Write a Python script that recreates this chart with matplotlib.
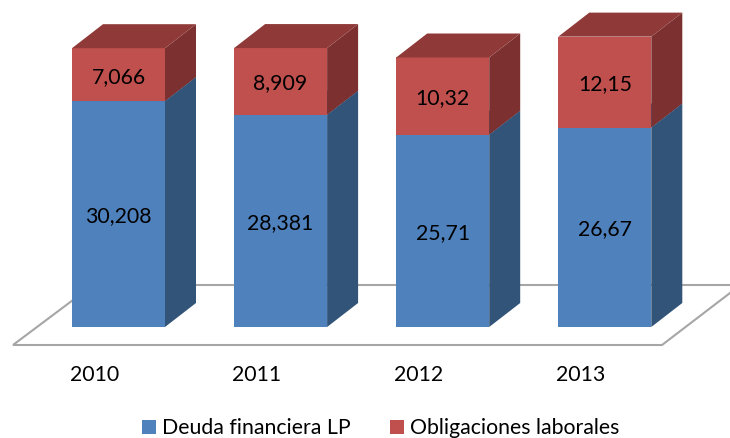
import matplotlib
matplotlib.use("Agg")
import matplotlib.pyplot as plt
from matplotlib.patches import Polygon, Patch

years = ["2010", "2011", "2012", "2013"]
deuda = [30.208, 28.381, 25.71, 26.67]
obligaciones = [7.066, 8.909, 10.32, 12.15]
deuda_labels = ["30,208", "28,381", "25,71", "26,67"]
oblig_labels = ["7,066", "8,909", "10,32", "12,15"]

W, H = 730, 438
PX_X = 162.1   # pixels per category
PX_Y = 7.48    # pixels per value unit
X0, Y0 = 118.5, 327
BAR_W = 93 / PX_X
DX, DY = 31 / PX_X, 24 / PX_Y
TXT_DY = 2 / PX_Y

plt.rcParams["font.family"] = ["Lato", "DejaVu Sans"]
fig = plt.figure(figsize=(W / 100, H / 100), dpi=100)
ax = fig.add_axes([0, 0, 1, 1])
ax.set_xlim(-X0 / PX_X, (W - X0) / PX_X)
ax.set_ylim(-(H - Y0) / PX_Y, Y0 / PX_Y)
ax.axis("off")

def px(x, y):
    return ((x - X0) / PX_X, (Y0 - y) / PX_Y)

# floor
floor = [px(730, 293), px(662, 345), px(13, 345), px(93, 285), px(730, 285)]
ax.plot(*zip(*floor), color="#A6A6A6", lw=1.5, zorder=1, solid_joinstyle="miter")

def box(i, bottom, height, front, side, top):
    l = i - BAR_W / 2
    r = i + BAR_W / 2
    t = bottom + height
    ax.add_patch(Polygon([(l, bottom), (r, bottom), (r, t), (l, t)], fc=front, ec="none", zorder=3))
    ax.add_patch(Polygon([(r, bottom), (r + DX, bottom + DY), (r + DX, t + DY), (r, t)], fc=side, ec="none", zorder=3))
    ax.add_patch(Polygon([(l, t), (r, t), (r + DX, t + DY), (l + DX, t + DY)], fc=top, ec="none", zorder=3))

fs = 15.3
for i in range(len(years)):
    box(i, 0, deuda[i], "#4F81BD", "#335479", "#3B6390")
    box(i, deuda[i], obligaciones[i], "#C0504D", "#7C302F", "#8F3A38")
    ax.text(i, deuda[i] / 2 - TXT_DY, deuda_labels[i], ha="center", va="center", fontsize=fs, color="black", zorder=5)
    ax.text(i, deuda[i] + obligaciones[i] / 2 - TXT_DY, oblig_labels[i], ha="center", va="center", fontsize=fs, color="black", zorder=5)
    ax.text(i - 24 / PX_X, (Y0 - 375) / PX_Y, years[i], ha="center", va="center", fontsize=fs, color="black")

handles = [Patch(fc="#4F81BD", label="Deuda financiera LP"), Patch(fc="#C0504D", label="Obligaciones laborales")]
fig.legend(handles=handles, loc="center", bbox_to_anchor=(381 / W, 1 - 428.5 / H), ncol=2, frameon=False,
           fontsize=fs, handlelength=0.65, handleheight=0.65, handletextpad=0.3, columnspacing=1.85,
           borderpad=0, borderaxespad=0)
fig.savefig("out.png", dpi=100)
